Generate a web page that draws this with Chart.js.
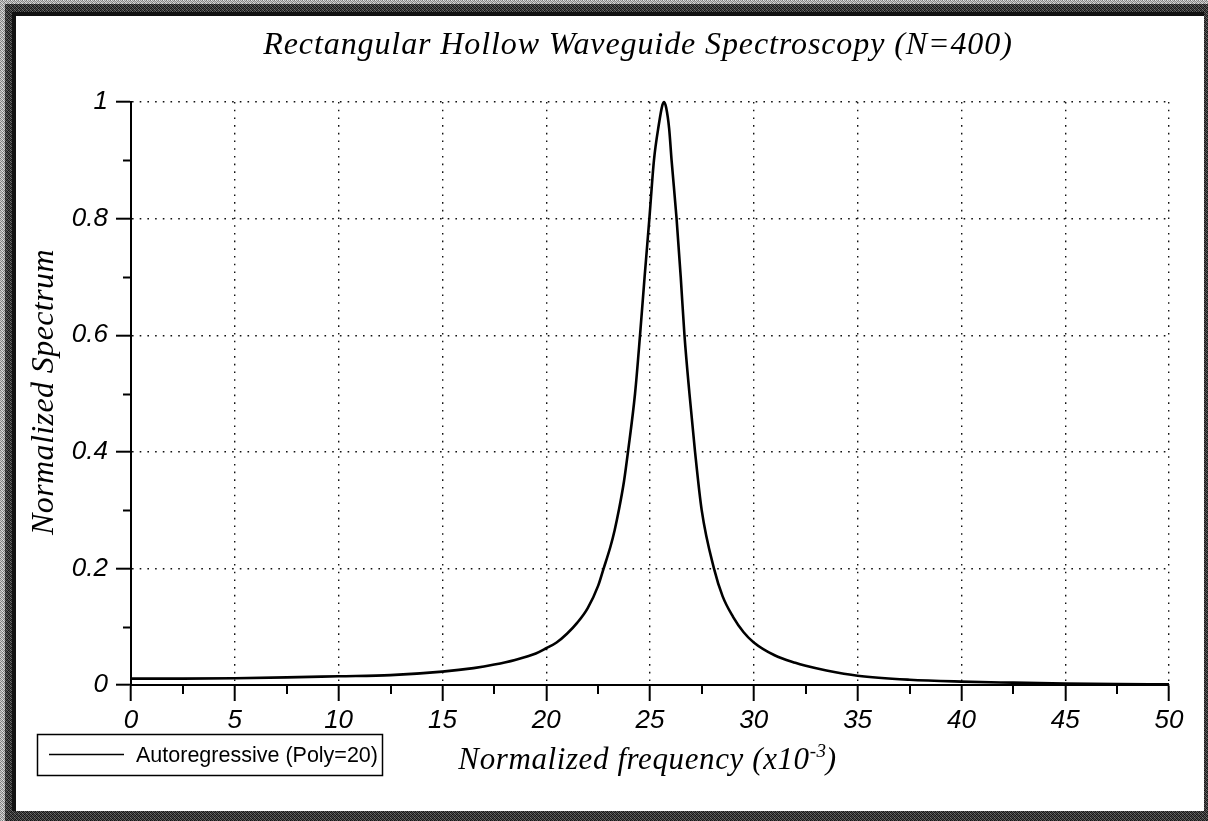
<!DOCTYPE html>
<html>
<head>
<meta charset="utf-8">
<script src="https://cdn.jsdelivr.net/npm/chart.js@4.4.1/dist/chart.umd.min.js"></script>
<style>
  html, body { margin: 0; padding: 0; background: #fff; overflow: hidden; }
  canvas { display: block; }
</style>
</head>
<body>
<canvas id="spectrum" width="1208" height="821"></canvas>
<script>
// Normalized frequency (x10^-3) and the normalized AR spectrum at those frequencies
const frequency = [
  0, 2.5, 5, 7.5, 10, 12.5, 15, 16.5, 17.5, 18.5, 19.5, 20, 20.5, 21, 21.5, 22,
  22.5, 22.75, 23.1, 23.3, 23.5, 23.75, 23.94, 24.28, 24.52, 24.74, 24.97, 25.19, 25.42, 25.6,
  25.68, 25.78, 25.92, 26.04, 26.28, 26.48, 26.66, 26.9, 27.17, 27.49, 28.08, 28.5,
  29, 29.5, 30, 31, 32, 32.5, 33.5, 35, 37.5, 40, 42.5, 45, 47.5, 50
];
const spectrum = [
  0.011, 0.011, 0.0115, 0.013, 0.015, 0.017, 0.023, 0.029, 0.035, 0.043, 0.054, 0.063,
  0.073, 0.088, 0.107, 0.132, 0.170, 0.198, 0.238, 0.266, 0.300, 0.350, 0.400, 0.500, 0.600, 0.700,
  0.800, 0.900, 0.960, 0.995, 1.000, 0.990, 0.955, 0.900, 0.800, 0.700, 0.600, 0.500,
  0.400, 0.300, 0.200, 0.152, 0.117, 0.091, 0.073, 0.051, 0.038, 0.033, 0.025, 0.016,
  0.009, 0.0058, 0.004, 0.0025, 0.0015, 0.001
];
const seriesLabel = 'Autoregressive (Poly=20)';
const chartTitle = 'Rectangular Hollow Waveguide Spectroscopy (N=400)';
const yAxisTitle = 'Normalized Spectrum';
const xAxisTitle = 'Normalized frequency (x10';
const xAxisExponent = '-3';
const xAxisTitleEnd = ')';
const xTickLabels = ['0', '5', '10', '15', '20', '25', '30', '35', '40', '45', '50'];
const yTickLabels = ['0', '0.2', '0.4', '0.6', '0.8', '1'];

const serifItalic = '"Liberation Serif", "DejaVu Serif", serif';
const sansFamily = '"Liberation Sans", Arial, sans-serif';

// Small ordered-dither tiles for the grainy frame
function ditherPattern(ctx, levels) {
  const n = Math.sqrt(levels.length);
  const tile = document.createElement('canvas');
  tile.width = n; tile.height = n;
  const g = tile.getContext('2d');
  const img = g.createImageData(n, n);
  levels.forEach((v, i) => {
    img.data[i * 4] = v; img.data[i * 4 + 1] = v; img.data[i * 4 + 2] = v; img.data[i * 4 + 3] = 255;
  });
  g.putImageData(img, 0, 0);
  return ctx.createPattern(tile, 'repeat');
}

const framePlugin = {
  id: 'frame',
  beforeDraw(chart) {
    const ctx = chart.ctx;
    const W = chart.width, H = chart.height;
    ctx.save();
    ctx.fillStyle = ditherPattern(ctx, [150, 205, 120, 230, 210, 130, 185, 140, 120, 220, 160, 200, 195, 140, 230, 125]);
    ctx.fillRect(0, 0, W, H);
    ctx.fillStyle = ditherPattern(ctx, [35, 95, 20, 65, 75, 25, 115, 40, 15, 65, 45, 100, 105, 35, 75, 20]);
    ctx.fillRect(5, 4, W - 5, H - 4);
    ctx.fillStyle = '#111';
    ctx.fillRect(12, 12, W - 16, 4);
    ctx.fillRect(12, 12, 4, H - 22);
    ctx.fillStyle = '#fff';
    ctx.fillRect(16, 16, W - 20, H - 26);
    ctx.restore();
  }
};

// Shorter minor tick marks halfway between the labelled ticks
const minorTicksPlugin = {
  id: 'minorTicks',
  afterDraw(chart) {
    const { ctx, scales: { x, y } } = chart;
    ctx.save();
    ctx.strokeStyle = '#000';
    ctx.lineWidth = 2;
    ctx.beginPath();
    for (let v = 0.1; v < 1; v += 0.2) {
      const py = Math.round(y.getPixelForValue(v)) + 0.5;
      ctx.moveTo(y.right - 8, py);
      ctx.lineTo(y.right, py);
    }
    for (let v = 2.5; v < 50; v += 5) {
      const px = Math.round(x.getPixelForValue(v));
      ctx.moveTo(px, x.top);
      ctx.lineTo(px, x.top + 9);
    }
    ctx.stroke();
    ctx.restore();
  }
};

// Title, axis titles and the boxed legend
const textPlugin = {
  id: 'texts',
  afterDraw(chart) {
    const ctx = chart.ctx;
    ctx.save();
    ctx.fillStyle = '#000';

    ctx.font = 'italic 32px ' + serifItalic;
    ctx.letterSpacing = '0.9px';
    ctx.textAlign = 'center';
    ctx.textBaseline = 'alphabetic';
    ctx.fillText(chartTitle, 638, 54);

    ctx.save();
    ctx.translate(45, 392);
    ctx.rotate(-Math.PI / 2);
    ctx.font = 'italic 32px ' + serifItalic;
    ctx.letterSpacing = '0.4px';
    ctx.textBaseline = 'middle';
    ctx.fillText(yAxisTitle, 0, 0);
    ctx.restore();

    ctx.font = 'italic 31px ' + serifItalic;
    ctx.letterSpacing = '0.6px';
    ctx.textAlign = 'left';
    const wMain = ctx.measureText(xAxisTitle).width;
    const wEnd = ctx.measureText(xAxisTitleEnd).width;
    ctx.font = 'italic 19px ' + serifItalic;
    const wExp = ctx.measureText(xAxisExponent).width;
    let xs = 648 - (wMain + wExp + wEnd) / 2;
    const base = 769;
    ctx.font = 'italic 31px ' + serifItalic;
    ctx.fillText(xAxisTitle, xs, base);
    xs += wMain;
    ctx.font = 'italic 19px ' + serifItalic;
    ctx.fillText(xAxisExponent, xs, base - 12);
    xs += wExp - 1;
    ctx.font = 'italic 31px ' + serifItalic;
    ctx.fillText(xAxisTitleEnd, xs, base);

    const ds = chart.data.datasets[0];
    ctx.letterSpacing = '0px';
    ctx.lineWidth = 1.5;
    ctx.strokeStyle = '#000';
    ctx.strokeRect(37.5, 734.5, 345, 41);
    ctx.beginPath();
    ctx.strokeStyle = ds.borderColor;
    ctx.lineWidth = 1.6;
    ctx.moveTo(49, 754.5);
    ctx.lineTo(124, 754.5);
    ctx.stroke();
    ctx.font = '21.5px ' + sansFamily;
    ctx.textBaseline = 'alphabetic';
    ctx.fillText(ds.label, 136, 762);
    ctx.restore();
  }
};

const tickFont = { family: sansFamily, style: 'italic', size: 26 };

new Chart(document.getElementById('spectrum'), {
  type: 'line',
  data: {
    datasets: [{
      label: seriesLabel,
      data: frequency.map((f, i) => ({ x: f, y: spectrum[i] })),
      borderColor: '#000',
      borderWidth: 2.6,
      pointRadius: 0,
      fill: false,
      cubicInterpolationMode: 'monotone',
      clip: false
    }]
  },
  options: {
    responsive: false,
    devicePixelRatio: 1,
    animation: false,
    layout: { padding: { top: 102, right: 39, bottom: 0, left: 0 } },
    plugins: { legend: { display: false }, title: { display: false }, tooltip: { enabled: false } },
    scales: {
      x: {
        type: 'linear',
        min: 0, max: 50,
        afterFit(scale) { scale.height = 136; },
        ticks: {
          stepSize: 5,
          color: '#000',
          font: tickFont,
          padding: 4,
          maxRotation: 0,
          callback: (v) => xTickLabels[Math.round(v / 5)]
        },
        grid: {
          color: '#111',
          lineWidth: 1.4,
          tickLength: 16,
          tickWidth: 2,
          tickColor: '#000',
          tickBorderDash: []
        },
        border: { display: true, color: '#000', width: 2, dash: [1.6, 6.1] }
      },
      y: {
        min: 0, max: 1,
        afterFit(scale) { scale.width = 131; },
        ticks: {
          stepSize: 0.2,
          color: '#000',
          font: tickFont,
          padding: 8,
          callback: (v) => yTickLabels[Math.round(v / 0.2)]
        },
        grid: {
          color: '#111',
          lineWidth: 1.4,
          tickLength: 15,
          tickWidth: 2,
          tickColor: '#000',
          tickBorderDash: []
        },
        border: { display: true, color: '#000', width: 2, dash: [1.6, 6.1] }
      }
    }
  },
  plugins: [framePlugin, minorTicksPlugin, textPlugin]
});
</script>
</body>
</html>
